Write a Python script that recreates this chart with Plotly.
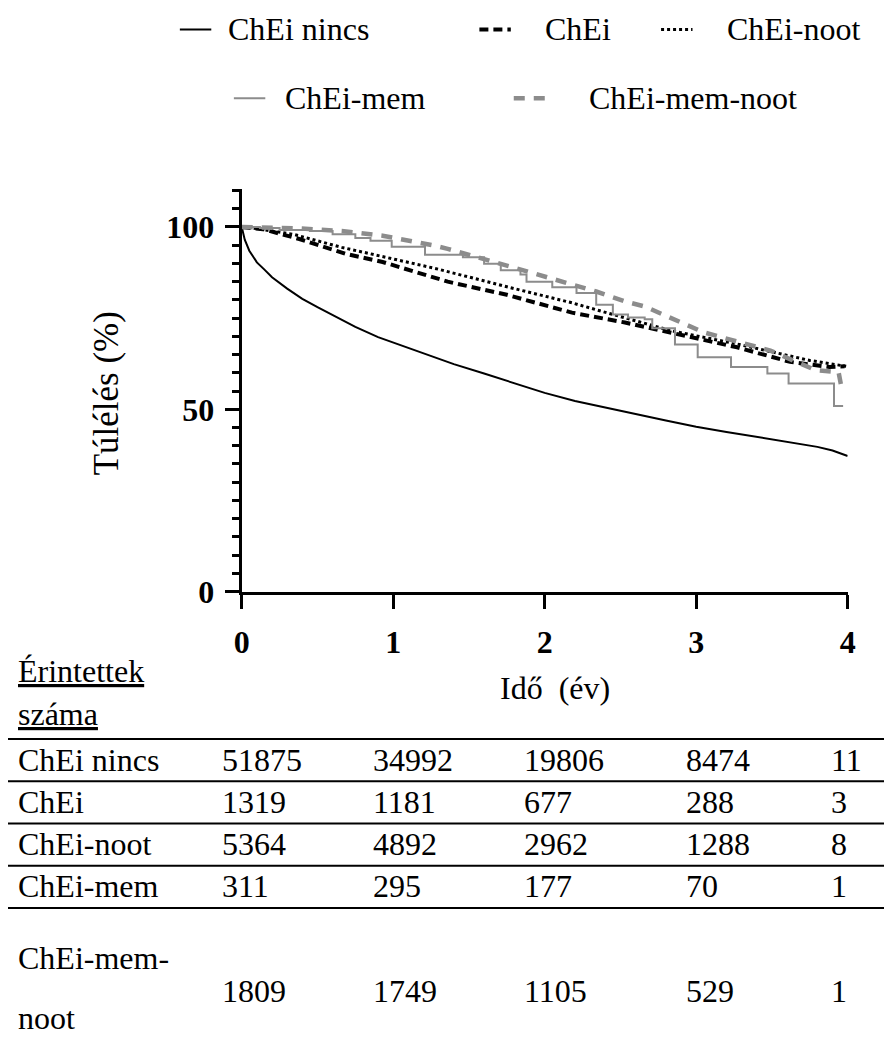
import plotly.graph_objects as go

# ---------------- data ----------------
t_nincs = [0, 0.02, 0.05, 0.1, 0.15, 0.2, 0.3, 0.4, 0.5, 0.6, 0.75, 0.9, 1.0, 1.2, 1.4, 1.6, 1.8,
           2.0, 2.2, 2.4, 2.6, 2.8, 3.0, 3.2, 3.4, 3.6, 3.8, 3.9, 4.0]
v_nincs = [100, 96.5, 93.5, 90.3, 88.3, 86.2, 83.1, 80.3, 78.0, 75.8, 72.6, 69.8, 68.3, 65.2, 62.4,
           59.8, 57.1, 54.5, 52.3, 50.4, 48.7, 46.9, 45.2, 43.8, 42.4, 41.0, 39.7, 38.7, 37.2]

t_chei = [0, 0.14, 0.38, 0.69, 0.93, 1.25, 1.36, 1.75, 2.18, 2.53, 2.88, 3.27, 3.62, 3.88, 3.98]
v_chei = [100, 99.4, 96.7, 92.6, 90.4, 86.3, 85.0, 81.4, 76.5, 73.8, 70.6, 67.0, 63.0, 61.6, 61.8]

t_noot = [0, 0.06, 0.34, 0.66, 0.95, 1.3, 1.75, 2.18, 2.45, 2.84, 3.27, 3.60, 3.75, 3.99]
v_noot = [100, 99.8, 98.0, 94.4, 91.7, 88.4, 83.6, 79.2, 76.0, 71.5, 67.9, 64.8, 63.4, 61.8]

t_mem = [0, 0.12, 0.25, 0.45, 0.6, 0.75, 0.85, 0.99, 1.21, 1.46, 1.60, 1.71, 1.84, 1.88, 2.05,
         2.21, 2.34, 2.45, 2.55, 2.66, 2.71, 2.86, 3.01, 3.23, 3.47, 3.61, 3.91, 3.97]
v_mem = [100, 99.7, 99.2, 98.9, 98.0, 97.0, 96.2, 94.6, 92.4, 91.7, 89.9, 88.1, 87.0, 85.0, 83.5,
         81.9, 78.7, 76.0, 75.2, 74.7, 72.2, 67.8, 64.3, 61.6, 59.8, 57.1, 50.9, 50.9]

t_memnoot = [0, 0.38, 0.66, 0.93, 1.27, 1.36, 1.86, 1.97, 2.34, 2.53, 2.66, 3.05, 3.49, 3.79, 3.94, 3.96]
v_memnoot = [100, 99.6, 98.9, 97.6, 94.9, 94.0, 88.1, 86.8, 82.3, 79.6, 78.2, 71.1, 66.1, 60.7, 60.2, 55.8]

series_names = ["ChEi nincs", "ChEi", "ChEi-noot", "ChEi-mem", "ChEi-mem-noot"]

# number at risk table
table_labels = ["ChEi nincs", "ChEi", "ChEi-noot", "ChEi-mem", "ChEi-mem-noot"]
risk_nincs = [51875, 34992, 19806, 8474, 11]
risk_chei = [1319, 1181, 677, 288, 3]
risk_noot = [5364, 4892, 2962, 1288, 8]
risk_mem = [311, 295, 177, 70, 1]
risk_memnoot = [1809, 1749, 1105, 529, 1]

x_ticks = [0, 1, 2, 3, 4]
y_ticks = [0, 50, 100]

# ---------------- figure ----------------
W, H = 892, 1044
FONT = "Liberation Serif"
FS = 32
GRAY = "#8c8c8c"

def px(x):
    return x / W

def py(y):
    return 1 - y / H

styles = [
    dict(color="black", width=2, dash="solid"),
    dict(color="black", width=4, dash="9px,5px"),
    dict(color="black", width=3, dash="dot"),
    dict(color=GRAY, width=2, dash="solid"),
    dict(color=GRAY, width=4.5, dash="11px,9px"),
]
shapes_kind = ["linear", "linear", "linear", "hv", "linear"]
datasets = [(t_nincs, v_nincs), (t_chei, v_chei), (t_noot, v_noot), (t_mem, v_mem), (t_memnoot, v_memnoot)]

fig = go.Figure()
for name, (tx, vy), st, shp in zip(series_names, datasets, styles, shapes_kind):
    fig.add_trace(go.Scatter(x=tx, y=vy, mode="lines", name=name, line=dict(shape=shp, **st),
                             showlegend=False))

annotations = []
shapes = []

def txt(text, x, y, xanchor="left", size=FS, **kw):
    annotations.append(dict(text=text, x=px(x), y=py(y), xref="paper", yref="paper",
                            xanchor=xanchor, yanchor="middle", showarrow=False,
                            font=dict(family=FONT, size=size, color="black"), **kw))

# legend (manual)
legend_items = [
    (0, 175, 207, 222, 30),
    (1, 480, 512, 545, 30),
    (2, 665, 697, 730, 30),
    (3, 230, 262, 280, 100),
    (4, 515, 547, 590, 100),
]
for idx, x0, x1, xt, yy in legend_items:
    st = styles[idx]
    shapes.append(dict(type="line", xref="paper", yref="paper", x0=px(x0), x1=px(x1), y0=py(yy), y1=py(yy),
                       line=dict(color=st["color"], width=st["width"], dash=st["dash"])))
    txt(series_names[idx], xt, yy)

# axis titles
txt("Túlélés (%)", 100, 400, xanchor="center", size=35, textangle=-90)
txt("Idő\u00a0\u00a0(év)", 557, 700, xanchor="center")

# table header
txt("<u>Érintettek</u>", 8, 683)
txt("<u>száma</u>", 8, 727)

# table lines
for yl in [752, 795, 838, 881, 924]:
    shapes.append(dict(type="line", xref="paper", yref="paper", x0=0, x1=1, y0=py(yl), y1=py(yl),
                       line=dict(color="black", width=2)))

col_x = [216, 370, 523, 688, 836]
row_y = [773, 816, 859, 902, 1008]
risks = [risk_nincs, risk_chei, risk_noot, risk_mem, risk_memnoot]
for i, (lab, vals) in enumerate(zip(table_labels, risks)):
    if i < 4:
        txt(lab, 8, row_y[i])
    else:
        txt("ChEi-mem-", 8, 975)
        txt("noot", 8, 1036)
    for cx, v in zip(col_x, vals):
        txt(str(v), cx, row_y[i])

axis_common = dict(ticks="outside", ticklen=14, tickwidth=3, tickcolor="black", showline=True,
                   linewidth=3, linecolor="black", showgrid=False, zeroline=False, fixedrange=True,
                   tickfont=dict(family=FONT, size=FS, color="black", weight="bold"))

fig.update_layout(
    width=W, height=H,
    margin=dict(l=0, r=0, t=0, b=0),
    paper_bgcolor="white", plot_bgcolor="white",
    showlegend=False,
    annotations=annotations,
    shapes=shapes,
    xaxis=dict(domain=[px(238), px(855)], range=[0, 4], tickvals=x_ticks, ticklabelstandoff=6,
               **axis_common),
    yaxis=dict(domain=[py(602), py(192)], range=[0, 110.5], tickvals=y_ticks, ticklabelstandoff=4,
               minor=dict(dtick=5, tick0=0, ticks="outside", ticklen=7, tickwidth=3, tickcolor="black",
                          showgrid=False),
               **axis_common),
)

fig.write_html("out.html")
